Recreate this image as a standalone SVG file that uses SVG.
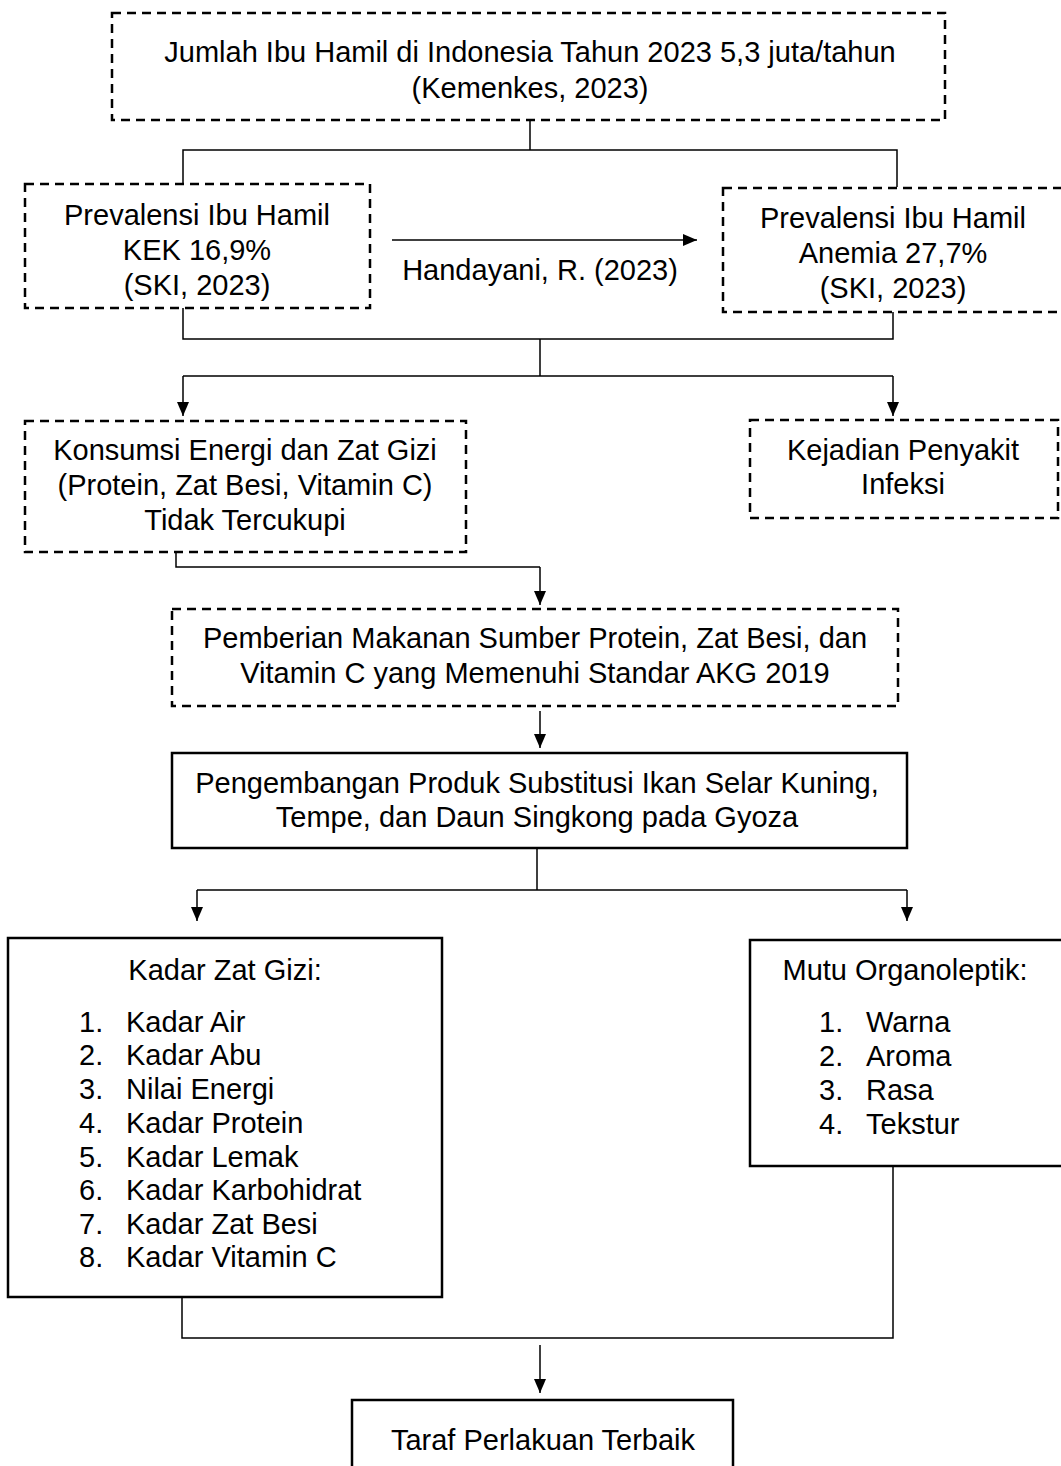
<svg xmlns="http://www.w3.org/2000/svg" width="1061" height="1466" viewBox="0 0 1061 1466">
<defs>
<style>
.t{font-family:"Liberation Sans",Arial,sans-serif;font-size:29px;fill:#000}
.c{text-anchor:middle}
.d{fill:#fff;stroke:#000;stroke-width:2.5;stroke-dasharray:9 6}
.s{fill:#fff;stroke:#000;stroke-width:2.5}
.l{fill:none;stroke:#000;stroke-width:1.5}
</style>
<marker id="ahl" viewBox="0 0 14 12" refX="14" refY="6" markerWidth="16" markerHeight="12" markerUnits="userSpaceOnUse" orient="auto">
<path d="M0,0 L14,6 L0,12 z" fill="#000"/>
</marker>
</defs>
<rect width="1061" height="1466" fill="#fff"/>
<g id="connectors">
<path class="l" d="M530,115 V150 M183,184 V150 H897 V187"/>
<line class="l" x1="392" y1="240" x2="697" y2="240" marker-end="url(#ahl)"/>
<path class="l" d="M183,308 V339 H893 V312 M540,339 V376 M183,376 H893"/>
<line class="l" x1="183" y1="376" x2="183" y2="416" marker-end="url(#ahl)"/>
<line class="l" x1="893" y1="376" x2="893" y2="416" marker-end="url(#ahl)"/>
<path class="l" d="M176,552 V567 H540"/>
<line class="l" x1="540" y1="567" x2="540" y2="605" marker-end="url(#ahl)"/>
<line class="l" x1="540" y1="711" x2="540" y2="748" marker-end="url(#ahl)"/>
<path class="l" d="M537,848 V890 M197,890 H907"/>
<line class="l" x1="197" y1="890" x2="197" y2="921" marker-end="url(#ahl)"/>
<line class="l" x1="907" y1="890" x2="907" y2="921" marker-end="url(#ahl)"/>
<path class="l" d="M182,1297 V1338 H893 V1166"/>
<line class="l" x1="540" y1="1345" x2="540" y2="1393" marker-end="url(#ahl)"/>
</g>
<g id="n-jumlah">
<rect class="d" x="112" y="13" width="833" height="107"/>
<text class="t c" x="530" y="62">Jumlah Ibu Hamil di Indonesia Tahun 2023 5,3 juta/tahun</text>
<text class="t c" x="530" y="98">(Kemenkes, 2023)</text>
</g>
<g id="n-kek">
<rect class="d" x="25" y="184" width="345" height="124"/>
<text class="t c" x="197" y="225">Prevalensi Ibu Hamil</text>
<text class="t c" x="197" y="260">KEK 16,9%</text>
<text class="t c" x="197" y="295">(SKI, 2023)</text>
</g>
<g id="n-handayani">
<text class="t c" x="540" y="280">Handayani, R. (2023)</text>
</g>
<g id="n-anemia">
<rect class="d" x="723" y="188" width="345" height="124"/>
<text class="t c" x="893" y="228">Prevalensi Ibu Hamil</text>
<text class="t c" x="893" y="263">Anemia 27,7%</text>
<text class="t c" x="893" y="298">(SKI, 2023)</text>
</g>
<g id="n-konsumsi">
<rect class="d" x="25" y="421" width="441" height="131"/>
<text class="t c" x="245" y="460">Konsumsi Energi dan Zat Gizi</text>
<text class="t c" x="245" y="495">(Protein, Zat Besi, Vitamin C)</text>
<text class="t c" x="245" y="530">Tidak Tercukupi</text>
</g>
<g id="n-kejadian">
<rect class="d" x="750" y="420" width="308" height="98"/>
<text class="t c" x="903" y="460">Kejadian Penyakit</text>
<text class="t c" x="903" y="494">Infeksi</text>
</g>
<g id="n-pemberian">
<rect class="d" x="172" y="609" width="726" height="97"/>
<text class="t c" x="535" y="648">Pemberian Makanan Sumber Protein, Zat Besi, dan</text>
<text class="t c" x="535" y="683">Vitamin C yang Memenuhi Standar AKG 2019</text>
</g>
<g id="n-pengembangan">
<rect class="s" x="172" y="753" width="735" height="95"/>
<text class="t c" x="537" y="793">Pengembangan Produk Substitusi Ikan Selar Kuning,</text>
<text class="t c" x="537" y="827">Tempe, dan Daun Singkong pada Gyoza</text>
</g>
<g id="n-kadar">
<rect class="s" x="8" y="938" width="434" height="359"/>
<text class="t c" x="225" y="980">Kadar Zat Gizi:</text>
<g class="t">
<text x="79" y="1032">1.</text><text x="126" y="1032">Kadar Air</text>
<text x="79" y="1065">2.</text><text x="126" y="1065">Kadar Abu</text>
<text x="79" y="1099">3.</text><text x="126" y="1099">Nilai Energi</text>
<text x="79" y="1133">4.</text><text x="126" y="1133">Kadar Protein</text>
<text x="79" y="1167">5.</text><text x="126" y="1167">Kadar Lemak</text>
<text x="79" y="1200">6.</text><text x="126" y="1200">Kadar Karbohidrat</text>
<text x="79" y="1234">7.</text><text x="126" y="1234">Kadar Zat Besi</text>
<text x="79" y="1267">8.</text><text x="126" y="1267">Kadar Vitamin C</text>
</g>
</g>
<g id="n-mutu">
<rect class="s" x="750" y="940" width="320" height="226"/>
<text class="t c" x="905" y="980">Mutu Organoleptik:</text>
<g class="t">
<text x="819" y="1032">1.</text><text x="866" y="1032">Warna</text>
<text x="819" y="1066">2.</text><text x="866" y="1066">Aroma</text>
<text x="819" y="1100">3.</text><text x="866" y="1100">Rasa</text>
<text x="819" y="1134">4.</text><text x="866" y="1134">Tekstur</text>
</g>
</g>
<g id="n-taraf">
<rect class="s" x="352" y="1400" width="381" height="80"/>
<text class="t c" x="543" y="1450">Taraf Perlakuan Terbaik</text>
</g>
</svg>
